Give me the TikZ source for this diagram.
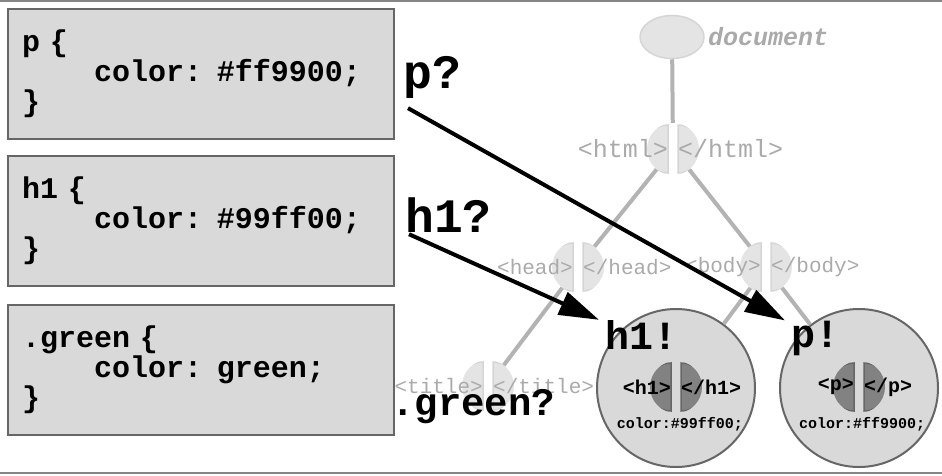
\documentclass[tikz,border=0pt]{standalone}
\usepackage{fontspec}
\setmonofont{Liberation Mono}
\usepackage{tikz}
\usetikzlibrary{arrows.meta}
\usetikzlibrary{shapes,positioning}
\definecolor{boxgray}{HTML}{D9D9D9}
\definecolor{edgegray}{HTML}{666666}
\definecolor{rulegray}{HTML}{858585}
\definecolor{treegray}{HTML}{B3B3B3}
\definecolor{faintgray}{HTML}{E4E4E4}
\definecolor{faintedge}{HTML}{D5D5D5}
\definecolor{tagtextgray}{HTML}{AAAAAA}
\definecolor{darkhalf}{HTML}{828282}
\tikzset{
  codebox/.style={draw=edgegray, fill=boxgray, line width=2pt, anchor=north west,
    minimum width=386pt, minimum height=130pt, text width=358pt, inner xsep=14pt,
    align=left, font=\ttfamily\bfseries\fontsize{30}{30}\selectfont},
  halves/.style 2 args={circle, minimum size=52pt, inner sep=0pt, path picture={
    \filldraw[fill=#1, draw=#2, line width=1.5pt]
      ([xshift=-5pt]path picture bounding box.center) ++(0pt,24pt) arc(90:270:24pt) -- cycle;
    \filldraw[fill=#1, draw=#2, line width=1.5pt]
      ([xshift=5pt]path picture bounding box.center) ++(0pt,24pt) arc(90:-90:24pt) -- cycle;
  }},
  tagtext/.style={inner sep=0pt, text=tagtextgray, font=\ttfamily\fontsize{#1}{#1}\selectfont},
  innertag/.style={inner sep=0pt, font=\ttfamily\bfseries\fontsize{#1}{#1}\selectfont},
  biglabel/.style={inner sep=0pt, anchor=base west, font=\ttfamily\bfseries\fontsize{#1}{#1}\selectfont},
  bigcircle/.style={circle, draw=edgegray, fill=boxgray, line width=2pt, minimum size=158pt, inner sep=0pt},
  treeline/.style={treegray, line width=4pt},
  pointer/.style={-{Triangle[length=40pt,width=24pt]}, line width=4pt},
}
\newcommand{\ind}{\hspace*{2.4em}}

\begin{document}
\begin{tikzpicture}[x=1pt,y=-1pt]
  \useasboundingbox (0,0) rectangle (942,475);

  \draw [rulegray, line width=2pt] (0,1) -- (942,1);
  \draw [rulegray, line width=2pt] (0,473) -- (942,473);

  % css rules
  \node[codebox] (prule) at (7,8) {p \{\\ \ind color: \#ff9900;\\ \}};
  \node[codebox] (hrule) at (7,155) {h1 \{\\ \ind color: \#99ff00;\\ \}};
  \node[codebox] (grule) at (7,304) {.green \{\\ \ind color: green;\\ \}};

  % document tree
  \node[ellipse, fill=faintgray, draw=faintedge, line width=1.5pt,
    minimum width=64pt, minimum height=43pt] (doc) at (672,37) {};
  \node[tagtext=25, anchor=west, font=\ttfamily\bfseries\itshape\fontsize{25}{25}\selectfont]
    (doclabel) at (708,37) {document};

  \node[halves={faintgray}{faintedge}] (html) at (673,149) {};
  \node[halves={faintgray}{faintedge}] (head) at (578,267) {};
  \node[halves={faintgray}{faintedge}] (body) at (766,267) {};
  \node[halves={faintgray}{faintedge}] (title) at (488,386) {};

  \node[tagtext=25, anchor=east] (htmlo) at ([xshift=-5pt]html.center) {<html>};
  \node[tagtext=25, anchor=west] (htmlc) at ([xshift=5pt]html.center) {</html>};
  \node[tagtext=21, anchor=east] (heado) at ([xshift=-5pt]head.center) {<head>};
  \node[tagtext=21, anchor=west] (headc) at ([xshift=5pt]head.center) {</head>};
  \node[tagtext=21, anchor=east] (bodyo) at ([xshift=-5pt]body.center) {<body>};
  \node[tagtext=21, anchor=west] (bodyc) at ([xshift=5pt]body.center) {</body>};
  \node[tagtext=21, anchor=east] (titleo) at ([xshift=-5pt]title.center) {<title>};
  \node[tagtext=21, anchor=west] (titlec) at ([xshift=5pt]title.center) {</title>};

  % matched elements
  \node[bigcircle] (h1c) at (676,388) {};
  \node[bigcircle] (pc) at (859,388) {};
  \node[halves={darkhalf}{edgegray}] (h1tag) at (676,387) {};
  \node[halves={darkhalf}{edgegray}] (ptag) at (859,387) {};
  \node[innertag=20, anchor=east] (h1o) at ([xshift=-5pt]h1tag.center) {<h1>};
  \node[innertag=20, anchor=west] (h1e) at ([xshift=5pt]h1tag.center) {</h1>};
  \node[innertag=20, anchor=east] (po) at ([xshift=-5pt]ptag.center) {<p>};
  \node[innertag=20, anchor=west] (pe) at ([xshift=5pt]ptag.center) {</p>};
  \node[innertag=15] (h1col) at (680,424) {color:\#99ff00;};
  \node[innertag=15] (pcol) at (862,424) {color:\#ff9900;};

  \draw[treeline] (doc) -- (html);
  \draw[treeline] (html) -- (head);
  \draw[treeline] (html) -- (body);
  \draw[treeline] (head) -- (title);
  \draw[treeline] (body) -- (h1c);
  \draw[treeline] (body) -- (pc);

  % selectors
  \node[biglabel=48] (pq) at (403,88) {p?};
  \node[biglabel=48] (hq) at (405,232) {h1?};
  \node[biglabel=39] (gq) at (391,415) {.green?};
  \node[biglabel=40] (hex) at (605,349) {h1!};
  \node[biglabel=40] (pex) at (791,347) {p!};

  \draw[pointer] ([shift={(5pt,-10pt)}]pq.south west) -- ([xshift=-6pt]pex.north west);
  \draw[pointer] ([shift={(4pt,-2pt)}]hq.south west) -- ([xshift=-6pt]hex.north west);

\end{tikzpicture}
\end{document}
